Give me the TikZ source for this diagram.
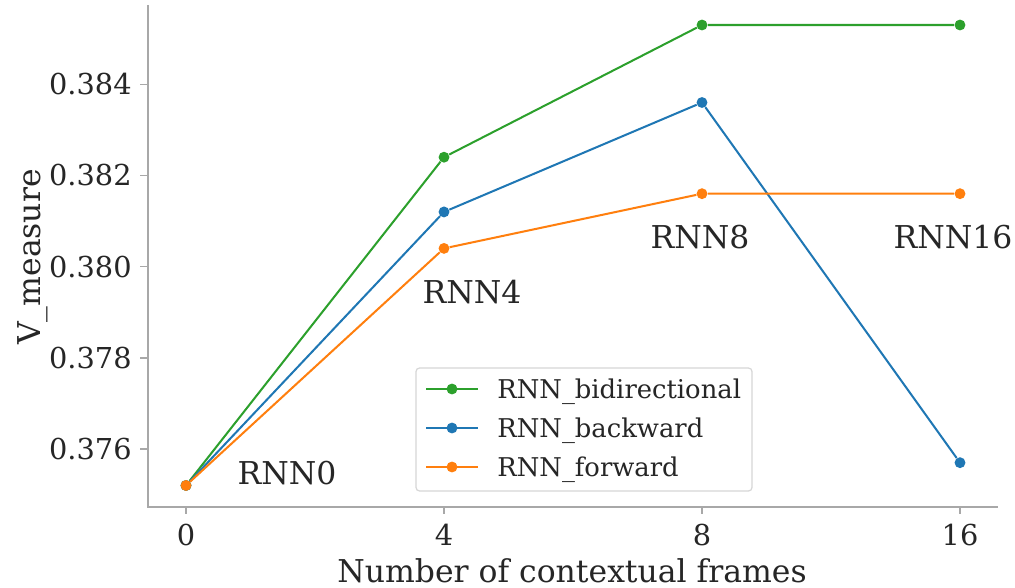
\documentclass[tikz,border=0pt]{standalone}
\usepackage{fontspec}
\setmainfont{DejaVu Serif}
\usepackage{xcolor}
\usetikzlibrary{positioning}
\definecolor{cgreen}{HTML}{2CA02C}
\definecolor{cblue}{HTML}{1F77B4}
\definecolor{corange}{HTML}{FF7F0E}
\definecolor{ctext}{HTML}{262626}
\definecolor{cspine}{HTML}{A8A8A8}
\definecolor{clegend}{HTML}{D6D6D6}

\begin{document}
\begin{tikzpicture}[
    x=0.02cm, y=-0.02cm,
    spine/.style={draw=cspine, line width=0.85pt},
    ticklabel/.style={inner sep=0pt, text=ctext, font=\fontsize{16.4}{19}\selectfont},
    axlabel/.style={inner sep=0pt, text=ctext, font=\fontsize{17.9}{21}\selectfont},
    series/.style={line width=1.15pt},
    dot/.style={circle, inner sep=0pt, minimum size=6.2pt},
    legendbox/.style={draw=clegend, fill=white, rounded corners=2pt, line width=0.7pt},
    legendtext/.style={inner sep=0pt, text=ctext, anchor=base west, font=\fontsize{14.7}{17}\selectfont}
]
    \useasboundingbox (0,0) rectangle (1015,588);

    % axes
    \coordinate (ytop) at (148,5);
    \coordinate (origin) at (148,507);
    \coordinate (xend) at (998,507);
    \draw[spine] (ytop) -- (origin) -- (xend);

    \foreach \xp/\xl in {186/0, 444/4, 702/8, 960/16} {
        \draw[spine] (\xp,507) -- (\xp,514);
        \node[ticklabel] (xt\xl) at (\xp,535) {\xl};
    }

    \begin{scope}[shift={(0,449)}, y=0.912cm]
        \foreach \v/\yl in {0/0.376, 2/0.378, 4/0.380, 6/0.382, 8/0.384} {
            \draw[spine] (140,\v) -- (148,\v);
            \node[ticklabel, anchor=east] (yt\v) at (132,\v) {\yl};
        }

        % RNN_bidirectional
        \node[dot, fill=cgreen] (g0) at (186,-0.8) {};
        \node[dot, fill=cgreen] (g4) at (444,6.4) {};
        \node[dot, fill=cgreen] (g8) at (702,9.3) {};
        \node[dot, fill=cgreen] (g16) at (960,9.3) {};
        \draw[series, cgreen] (g0) -- (g4) -- (g8) -- (g16);

        % RNN_backward
        \node[dot, fill=cblue] (b0) at (186,-0.8) {};
        \node[dot, fill=cblue] (b4) at (444,5.2) {};
        \node[dot, fill=cblue] (b8) at (702,7.6) {};
        \node[dot, fill=cblue] (b16) at (960,-0.3) {};
        \draw[series, cblue] (b0) -- (b4) -- (b8) -- (b16);

        % RNN_forward
        \node[dot, fill=corange] (f0) at (186,-0.8) {};
        \node[dot, fill=corange] (f4) at (444,4.4) {};
        \node[dot, fill=corange] (f8) at (702,5.6) {};
        \node[dot, fill=corange] (f16) at (960,5.6) {};
        \draw[series, corange] (f0) -- (f4) -- (f8) -- (f16);
    \end{scope}

    % annotations
    \node[axlabel] (a0) at (287,473) {RNN0};
    \node[axlabel] (a4) at (472,292) {RNN4};
    \node[axlabel] (a8) at (700,237) {RNN8};
    \node[axlabel] (a16) at (953,237) {RNN16};

    % axis labels
    \node[axlabel, anchor=base] (xlab) at (572,582) {Number of contextual frames};
    \node[axlabel, anchor=base, rotate=90] (ylab) at (40,257) {V\_measure};

    % legend
    \draw[legendbox] (416,368) rectangle (752,491);
    \foreach \yy/\cc/\nm [count=\i] in {389/cgreen/RNN\_bidirectional, 428/cblue/RNN\_backward, 467/corange/RNN\_forward} {
        \coordinate (la\i) at (426,\yy);
        \coordinate (lb\i) at (478,\yy);
        \draw[series, \cc] (la\i) -- (lb\i);
        \node[dot, fill=\cc] (ld\i) at (452,\yy) {};
        \node[legendtext] (lt\i) at (497,\yy+9.5) {\nm};
    }
\end{tikzpicture}
\end{document}
